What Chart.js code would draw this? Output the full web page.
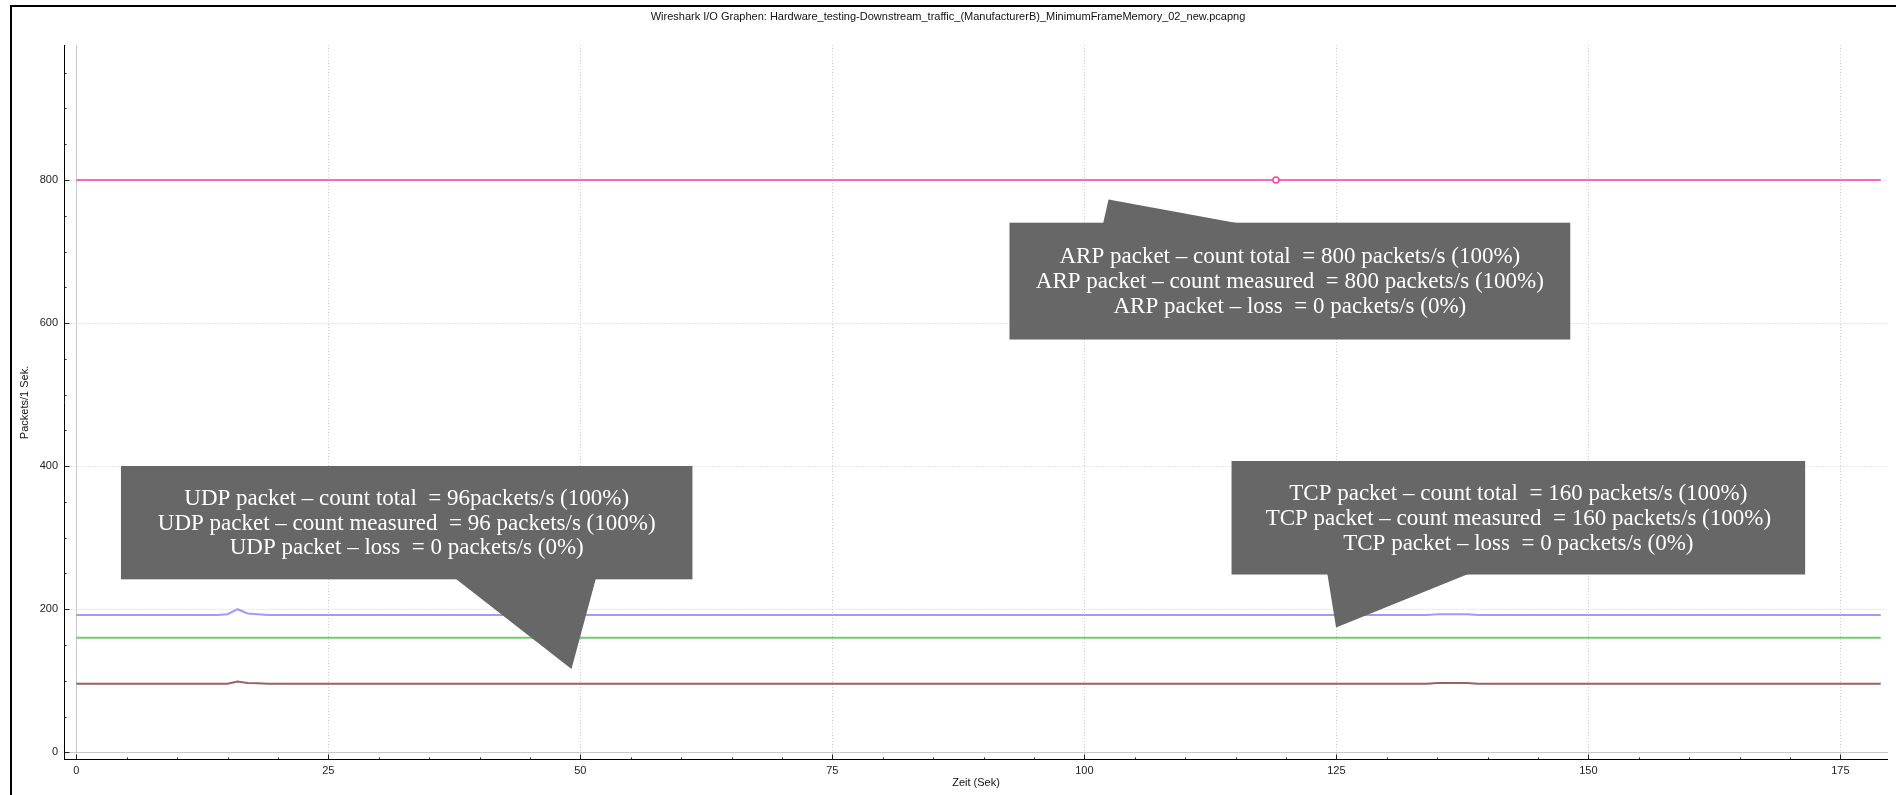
<!DOCTYPE html>
<html lang="de">
<head>
<meta charset="utf-8">
<title>Wireshark I/O Graphen</title>
<script src="https://cdn.jsdelivr.net/npm/chart.js@4/dist/chart.umd.min.js"></script>
<style>
  html, body { margin: 0; padding: 0; background: #fff; }
  body { width: 1896px; height: 795px; position: relative; overflow: hidden; }
  #frame {
    position: absolute; left: 10px; top: 5px; width: 1886px; height: 790px;
    border-left: 2px solid #000; border-top: 2px solid #000; box-sizing: border-box;
  }
  #wrap { position: absolute; left: 0; top: 0; width: 1896px; height: 795px; }
</style>
</head>
<body>
<div id="frame"></div>
<div id="wrap"><canvas id="chart" width="1896" height="795"></canvas></div>
<script>
// Capture time axis (seconds), one sample per second
const seconds = Array.from({ length: 180 }, (_, i) => i);

// Packets per second for each I/O graph
const arpRate = [
  800, 800, 800, 800, 800, 800, 800, 800, 800, 800, 800, 800, 800, 800, 800, 800, 800, 800, 800, 800,
  800, 800, 800, 800, 800, 800, 800, 800, 800, 800, 800, 800, 800, 800, 800, 800, 800, 800, 800, 800,
  800, 800, 800, 800, 800, 800, 800, 800, 800, 800, 800, 800, 800, 800, 800, 800, 800, 800, 800, 800,
  800, 800, 800, 800, 800, 800, 800, 800, 800, 800, 800, 800, 800, 800, 800, 800, 800, 800, 800, 800,
  800, 800, 800, 800, 800, 800, 800, 800, 800, 800, 800, 800, 800, 800, 800, 800, 800, 800, 800, 800,
  800, 800, 800, 800, 800, 800, 800, 800, 800, 800, 800, 800, 800, 800, 800, 800, 800, 800, 800, 800,
  800, 800, 800, 800, 800, 800, 800, 800, 800, 800, 800, 800, 800, 800, 800, 800, 800, 800, 800, 800,
  800, 800, 800, 800, 800, 800, 800, 800, 800, 800, 800, 800, 800, 800, 800, 800, 800, 800, 800, 800,
  800, 800, 800, 800, 800, 800, 800, 800, 800, 800, 800, 800, 800, 800, 800, 800, 800, 800, 800, 800
];

const framesRate = [
  192, 192, 192, 192, 192, 192, 192, 192, 192, 192, 192, 192, 192, 192, 192, 193, 200, 194, 193, 192,
  192, 192, 192, 192, 192, 192, 192, 192, 192, 192, 192, 192, 192, 192, 192, 192, 192, 192, 192, 192,
  192, 192, 192, 192, 192, 192, 192, 192, 192, 192, 192, 192, 192, 192, 192, 192, 192, 192, 192, 192,
  192, 192, 192, 192, 192, 192, 192, 192, 192, 192, 192, 192, 192, 192, 192, 192, 192, 192, 192, 192,
  192, 192, 192, 192, 192, 192, 192, 192, 192, 192, 192, 192, 192, 192, 192, 192, 192, 192, 192, 192,
  192, 192, 192, 192, 192, 192, 192, 192, 192, 192, 192, 192, 192, 192, 192, 192, 192, 192, 192, 192,
  192, 192, 192, 192, 192, 192, 192, 192, 192, 192, 192, 192, 192, 192, 192, 193, 193, 193, 193, 192,
  192, 192, 192, 192, 192, 192, 192, 192, 192, 192, 192, 192, 192, 192, 192, 192, 192, 192, 192, 192,
  192, 192, 192, 192, 192, 192, 192, 192, 192, 192, 192, 192, 192, 192, 192, 192, 192, 192, 192, 192
];

const tcpRate = [
  160, 160, 160, 160, 160, 160, 160, 160, 160, 160, 160, 160, 160, 160, 160, 160, 160, 160, 160, 160,
  160, 160, 160, 160, 160, 160, 160, 160, 160, 160, 160, 160, 160, 160, 160, 160, 160, 160, 160, 160,
  160, 160, 160, 160, 160, 160, 160, 160, 160, 160, 160, 160, 160, 160, 160, 160, 160, 160, 160, 160,
  160, 160, 160, 160, 160, 160, 160, 160, 160, 160, 160, 160, 160, 160, 160, 160, 160, 160, 160, 160,
  160, 160, 160, 160, 160, 160, 160, 160, 160, 160, 160, 160, 160, 160, 160, 160, 160, 160, 160, 160,
  160, 160, 160, 160, 160, 160, 160, 160, 160, 160, 160, 160, 160, 160, 160, 160, 160, 160, 160, 160,
  160, 160, 160, 160, 160, 160, 160, 160, 160, 160, 160, 160, 160, 160, 160, 160, 160, 160, 160, 160,
  160, 160, 160, 160, 160, 160, 160, 160, 160, 160, 160, 160, 160, 160, 160, 160, 160, 160, 160, 160,
  160, 160, 160, 160, 160, 160, 160, 160, 160, 160, 160, 160, 160, 160, 160, 160, 160, 160, 160, 160
];

const udpRate = [
  96, 96, 96, 96, 96, 96, 96, 96, 96, 96, 96, 96, 96, 96, 96, 96, 99, 97, 96.5, 96,
  96, 96, 96, 96, 96, 96, 96, 96, 96, 96, 96, 96, 96, 96, 96, 96, 96, 96, 96, 96,
  96, 96, 96, 96, 96, 96, 96, 96, 96, 96, 96, 96, 96, 96, 96, 96, 96, 96, 96, 96,
  96, 96, 96, 96, 96, 96, 96, 96, 96, 96, 96, 96, 96, 96, 96, 96, 96, 96, 96, 96,
  96, 96, 96, 96, 96, 96, 96, 96, 96, 96, 96, 96, 96, 96, 96, 96, 96, 96, 96, 96,
  96, 96, 96, 96, 96, 96, 96, 96, 96, 96, 96, 96, 96, 96, 96, 96, 96, 96, 96, 96,
  96, 96, 96, 96, 96, 96, 96, 96, 96, 96, 96, 96, 96, 96, 96, 97, 97, 97, 97, 96,
  96, 96, 96, 96, 96, 96, 96, 96, 96, 96, 96, 96, 96, 96, 96, 96, 96, 96, 96, 96,
  96, 96, 96, 96, 96, 96, 96, 96, 96, 96, 96, 96, 96, 96, 96, 96, 96, 96, 96, 96
];

// Axis tick labels
const xTicks = [0, 25, 50, 75, 100, 125, 150, 175];
const yTicks = [0, 200, 400, 600, 800];

// Sample highlighted on the ARP graph (seconds)
const arpMarkerSecond = 119;

// Annotation texts
const arpNote = [
  'ARP packet \u2013 count total  = 800 packets/s (100%)',
  'ARP packet \u2013 count measured  = 800 packets/s (100%)',
  'ARP packet \u2013 loss  = 0 packets/s (0%)'
];
const udpNote = [
  'UDP packet \u2013 count total  = 96packets/s (100%)',
  'UDP packet \u2013 count measured  = 96 packets/s (100%)',
  'UDP packet \u2013 loss  = 0 packets/s (0%)'
];
const tcpNote = [
  'TCP packet \u2013 count total  = 160 packets/s (100%)',
  'TCP packet \u2013 count measured  = 160 packets/s (100%)',
  'TCP packet \u2013 loss  = 0 packets/s (0%)'
];

// Callout boxes, placed in axis units (seconds / packets)
const callouts = [
  { lines: arpNote, xMin: 92.57, xMax: 148.2, yMin: 577.0, yMax: 740.3, base: [101.85, 115.5], tip: { x: 102.4, y: 772.9 } },
  { lines: udpNote, xMin: 4.43, xMax: 61.12, yMin: 241.8, yMax: 400.2, base: [37.57, 51.55], tip: { x: 49.12, y: 116.4 } },
  { lines: tcpNote, xMin: 114.6, xMax: 171.5, yMin: 248.5, yMax: 407.2, base: [124.1, 138.2], tip: { x: 124.97, y: 174.4 } }
];

const toPoints = values => values.map((v, i) => ({ x: seconds[i], y: v }));

// Grid, axis lines and inward tick marks in the QCustomPlot style
const axisFrame = {
  id: 'axisFrame',
  beforeDatasetsDraw(chart) {
    const { ctx, chartArea: a, scales: { x, y } } = chart;
    const px = v => Math.round(x.getPixelForValue(v)) + 0.5;
    const py = v => Math.round(y.getPixelForValue(v)) + 0.5;
    const seg = (x0, y0, x1, y1) => { ctx.beginPath(); ctx.moveTo(x0, y0); ctx.lineTo(x1, y1); ctx.stroke(); };
    const left = Math.round(a.left) + 0.5, bottom = Math.round(a.bottom) - 0.5;

    ctx.save();
    ctx.lineWidth = 1;

    // dotted grid
    ctx.strokeStyle = '#cdcdcd';
    ctx.setLineDash([1, 2]);
    xTicks.filter(v => v !== 0).forEach(v => seg(px(v), a.top, px(v), bottom));
    yTicks.filter(v => v !== 0).forEach(v => seg(left, py(v), a.right, py(v)));
    ctx.setLineDash([]);

    // zero lines
    ctx.strokeStyle = '#c8c8c8';
    seg(px(0), a.top, px(0), bottom);
    seg(left, py(0), a.right, py(0));

    // axis lines
    ctx.strokeStyle = '#000';
    seg(left, a.top, left, bottom + 0.5);
    seg(left - 0.5, bottom, a.right, bottom);

    // major and minor ticks
    ctx.strokeStyle = '#222';
    for (let v = 0; v <= x.max; v += 5) {
      const len = xTicks.includes(v) ? 5 : 2;
      seg(px(v), bottom, px(v), bottom - len);
    }
    for (let v = 0; v <= y.max; v += 50) {
      const len = yTicks.includes(v) ? 5 : 2;
      seg(left, py(v), left + len, py(v));
    }
    ctx.restore();
  }
};

// Speech-bubble annotations
const calloutPlugin = {
  id: 'callouts',
  afterDatasetsDraw(chart) {
    const { ctx, scales: { x, y } } = chart;
    ctx.save();
    callouts.forEach(c => {
      const left = x.getPixelForValue(c.xMin), right = x.getPixelForValue(c.xMax);
      const top = y.getPixelForValue(c.yMax), bottom = y.getPixelForValue(c.yMin);
      const tipX = x.getPixelForValue(c.tip.x), tipY = y.getPixelForValue(c.tip.y);
      const edge = tipY < top ? top + 1 : bottom - 1;

      ctx.fillStyle = '#676767';
      ctx.fillRect(left, top, right - left, bottom - top);
      ctx.beginPath();
      ctx.moveTo(x.getPixelForValue(c.base[0]), edge);
      ctx.lineTo(tipX, tipY);
      ctx.lineTo(x.getPixelForValue(c.base[1]), edge);
      ctx.closePath();
      ctx.fill();

      ctx.fillStyle = '#ffffff';
      ctx.font = '23px "Liberation Serif", serif';
      ctx.textAlign = 'center';
      ctx.textBaseline = 'middle';
      const cx = (left + right) / 2, cy = (top + bottom) / 2 + 1;
      c.lines.forEach((t, i) => ctx.fillText(t, cx, cy + (i - 1) * 24.7));
    });
    ctx.restore();
  }
};

const lineSet = (label, values, color) => ({
  label,
  data: toPoints(values),
  borderColor: color,
  backgroundColor: color,
  borderWidth: 2,
  pointRadius: 0,
  tension: 0,
  fill: false
});

const arpSet = lineSet('ARP', arpRate, '#ff66b3');
arpSet.pointRadius = ctx => (ctx.dataIndex === arpMarkerSecond ? 3 : 0);
arpSet.pointBackgroundColor = '#ffffff';
arpSet.pointBorderColor = '#ff3fa0';
arpSet.pointBorderWidth = 1.5;

const font = { family: '"Liberation Sans", Arial, sans-serif', size: 11 };

new Chart(document.getElementById('chart'), {
  type: 'line',
  data: {
    datasets: [
      arpSet,
      lineSet('Frames', framesRate, '#9c9cff'),
      lineSet('TCP', tcpRate, '#6ccf6c'),
      lineSet('UDP', udpRate, '#9a6262')
    ]
  },
  options: {
    responsive: false,
    animation: false,
    devicePixelRatio: 1,
    layout: { padding: { left: 8, right: 8, top: 10, bottom: 0 } },
    plugins: {
      legend: { display: false },
      tooltip: { enabled: false },
      title: {
        display: true,
        text: 'Wireshark I/O Graphen: Hardware_testing-Downstream_traffic_(ManufacturerB)_MinimumFrameMemory_02_new.pcapng',
        color: '#111',
        font: { ...font, weight: 'normal', lineHeight: 1.2 },
        padding: { top: 0, bottom: 21.8 }
      }
    },
    scales: {
      x: {
        type: 'linear',
        min: -1.22,
        max: 179.72,
        grid: { display: false, drawTicks: false },
        border: { display: false },
        ticks: { color: '#222', font, padding: 4.4, autoSkip: false, maxRotation: 0 },
        title: { display: true, text: 'Zeit (Sek)', color: '#111', font, padding: { top: 0, bottom: 5.4 } },
        afterBuildTicks: s => { s.ticks = xTicks.map(v => ({ value: v })); },
        afterFit: s => { s.height = 35; }
      },
      y: {
        type: 'linear',
        min: -10.76,
        max: 988.7,
        grid: { display: false, drawTicks: false },
        border: { display: false },
        ticks: { color: '#222', font, padding: 6, autoSkip: false },
        title: { display: true, text: 'Packets/1 Sek.', color: '#111', font, padding: { top: 10.4, bottom: 0 } },
        afterBuildTicks: s => { s.ticks = yTicks.map(v => ({ value: v })); },
        afterFit: s => { s.width = 56; }
      }
    }
  },
  plugins: [axisFrame, calloutPlugin]
});
</script>
</body>
</html>
